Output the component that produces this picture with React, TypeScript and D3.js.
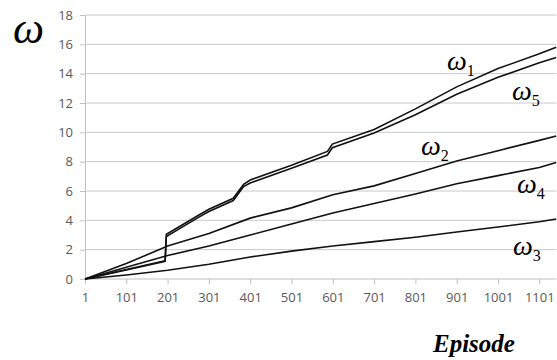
import { useEffect, useRef } from 'react'
import * as d3 from 'd3'

// episode ticks and weight ticks
const xTicks = [1, 101, 201, 301, 401, 501, 601, 701, 801, 901, 1001, 1101]
const yTicks = [0, 2, 4, 6, 8, 10, 12, 14, 16, 18]

// [episode, weight]
const omega1 = [[1, 0], [101, 0.65], [195, 1.25], [198, 3.05], [231, 3.6], [279, 4.4], [301, 4.75], [360, 5.5], [385, 6.45], [401, 6.75], [501, 7.75], [588, 8.7], [600, 9.2], [701, 10.2], [801, 11.6], [901, 13.1], [1001, 14.35], [1101, 15.35], [1142, 15.8]]
const omega5 = [[1, 0], [101, 0.62], [195, 1.2], [198, 2.9], [231, 3.45], [279, 4.25], [301, 4.6], [360, 5.35], [385, 6.3], [401, 6.55], [501, 7.55], [588, 8.45], [600, 8.95], [701, 9.95], [801, 11.2], [901, 12.6], [1001, 13.75], [1101, 14.75], [1142, 15.1]]
const omega2 = [[1, 0], [101, 1.05], [201, 2.25], [301, 3.1], [401, 4.15], [501, 4.85], [601, 5.75], [701, 6.35], [801, 7.2], [901, 8.05], [1001, 8.75], [1101, 9.45], [1142, 9.75]]
const omega4 = [[1, 0], [101, 0.8], [201, 1.6], [301, 2.25], [401, 3.0], [501, 3.75], [601, 4.5], [701, 5.15], [801, 5.8], [901, 6.5], [1001, 7.05], [1101, 7.6], [1142, 7.95]]
const omega3 = [[1, 0], [101, 0.27], [201, 0.6], [301, 1.0], [401, 1.5], [501, 1.9], [601, 2.25], [701, 2.55], [801, 2.85], [901, 3.2], [1001, 3.55], [1101, 3.9], [1142, 4.09]]

const seriesList = [omega1, omega5, omega2, omega4, omega3]

// curve labels: subscript, position of the omega
const labels = [
  { sub: '1', x: 447, y: 70 },
  { sub: '5', x: 512, y: 100 },
  { sub: '2', x: 421, y: 155 },
  { sub: '4', x: 517, y: 193 },
  { sub: '3', x: 513, y: 255 },
]

function App() {
  const ref = useRef<SVGSVGElement>(null)

  useEffect(() => {
    if (!ref.current) return
    const svg = d3.select(ref.current)
    svg.selectAll('*').remove()

    const x = d3.scaleLinear().domain([1, 1101]).range([85, 539.3])
    const y = d3.scaleLinear().domain([0, 18]).range([279, 15])
    const xEnd = x(1142)

    // gridlines
    svg.append('g')
      .selectAll('line')
      .data(yTicks.filter(d => d > 0))
      .enter()
      .append('line')
      .attr('x1', x(1))
      .attr('x2', xEnd)
      .attr('y1', d => y(d))
      .attr('y2', d => y(d))
      .attr('stroke', '#c8c8c8')
      .attr('stroke-width', 1)

    // y axis
    const yAxis = svg.append('g')
      .attr('transform', `translate(${x(1)},0)`)
      .call(d3.axisLeft(y).tickValues(yTicks).tickSize(5).tickSizeOuter(0))
    yAxis.select('.domain').attr('stroke', '#bfbfbf')
    yAxis.selectAll('.tick line').attr('stroke', '#bfbfbf')
    yAxis.selectAll('.tick text')
      .attr('x', -12)
      .attr('fill', '#595959')
      .attr('font-size', '13px')
      .attr('font-family', 'Open Sans, sans-serif')

    // x axis
    const xAxis = svg.append('g')
      .attr('transform', `translate(0,${y(0)})`)
      .call(d3.axisBottom(x).tickValues(xTicks).tickSize(5).tickSizeOuter(0).tickFormat(d3.format('d')))
    xAxis.select('.domain').attr('d', `M${x(1)},0H${xEnd}`).attr('stroke', '#bfbfbf')
    xAxis.selectAll('.tick line').attr('stroke', '#bfbfbf')
    xAxis.selectAll('.tick text')
      .attr('y', 14)
      .attr('fill', '#595959')
      .attr('font-size', '13px')
      .attr('font-family', 'Open Sans, sans-serif')

    // series
    const line = d3.line<number[]>()
      .x(d => x(d[0]))
      .y(d => y(d[1]))

    svg.append('g')
      .selectAll('path')
      .data(seriesList)
      .enter()
      .append('path')
      .attr('d', d => line(d))
      .attr('fill', 'none')
      .attr('stroke', '#111')
      .attr('stroke-width', 1.6)

    // curve labels
    const lab = svg.append('g')
      .selectAll('text')
      .data(labels)
      .enter()
      .append('text')
      .attr('x', d => d.x)
      .attr('y', d => d.y)
      .attr('font-family', 'Liberation Serif, serif')
      .attr('font-style', 'italic')
      .attr('fill', '#000')
    lab.append('tspan').attr('font-size', '28px').text('ω')
    lab.append('tspan')
      .attr('font-size', '16px')
      .attr('font-style', 'normal')
      .attr('dy', 6)
      .text(d => d.sub)

    // axis titles
    svg.append('text')
      .attr('x', 13)
      .attr('y', 43)
      .attr('font-family', 'Liberation Serif, serif')
      .attr('font-style', 'italic')
      .attr('font-size', '44px')
      .text('ω')

    svg.append('text')
      .attr('x', 433)
      .attr('y', 352)
      .attr('font-family', 'Liberation Serif, serif')
      .attr('font-style', 'italic')
      .attr('font-weight', 'bold')
      .attr('font-size', '25px')
      .text('Episode')
  }, [])

  return (
    <svg
      ref={ref}
      width={557}
      height={360}
      style={{ position: 'absolute', left: 0, top: 0, background: '#fff' }}
    />
  )
}

export default App
